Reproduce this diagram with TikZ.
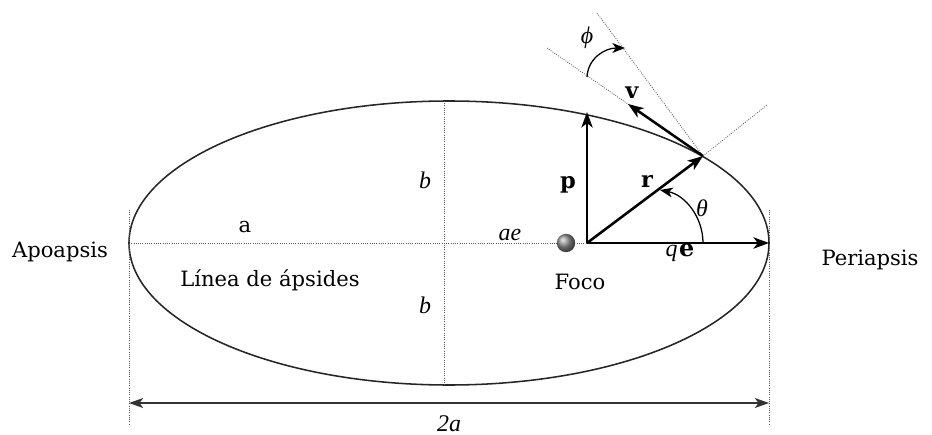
\documentclass[tikz,border=0pt]{standalone}
\usepackage{fontspec}
\setmainfont{DejaVu Serif}
\newfontfamily\symfam{Liberation Serif}
\usepackage{tikz}
\usetikzlibrary{arrows.meta}
\tikzset{
  orbit/.style={line width=1.1pt,black!85},
  guide/.style={densely dotted,black!65,line width=0.6pt},
  vec/.style={line width=1.8pt,-{Stealth[length=11pt,width=8pt,inset=3pt]}},
  angarc/.style={line width=0.9pt,-{Stealth[length=9pt,width=7pt,inset=2.5pt]}},
  dimline/.style={line width=1.4pt,black!80,{Stealth[length=10pt,width=7pt,inset=2.5pt]}-{Stealth[length=10pt,width=7pt,inset=2.5pt]}},
  lbl/.style={font=\fontsize{15}{18}\selectfont,inner sep=1pt},
  ilbl/.style={font=\fontsize{17}{20}\selectfont\symfam\itshape,inner sep=1pt},
  blbl/.style={font=\fontsize{16}{19}\selectfont\bfseries,inner sep=1pt},
  ball/.style={circle,minimum size=4.6mm,inner sep=0pt,ball color=black!45},
}

\begin{document}
\begin{tikzpicture}[x=0.25mm,y=-0.25mm]
  \useasboundingbox (0,0) rectangle (932,435);
  % puntos de la orbita
  \coordinate (C) at (449,243);
  \coordinate (F) at (587,243);
  \coordinate (P) at (703,156);
  \coordinate (apo) at (129,243);
  \coordinate (peri) at (769,243);
  \coordinate (ptip) at (587,112);
  \coordinate (vtip) at (628,104);
  \coordinate (ctop) at (444,101);
  \coordinate (cbot) at (444,385);
  \coordinate (apoT) at (129,210);
  \coordinate (apoB) at (129,425);
  \coordinate (periT) at (769,210);
  \coordinate (periB) at (769,425);
  \coordinate (dimL) at (129,403);
  \coordinate (dimR) at (769,403);
  \coordinate (vfar) at (547,48);
  \coordinate (hfar) at (597,13);
  \coordinate (rfar) at (767,105);
  \coordinate (th0) at (703,243);
  \coordinate (th1) at (660,190);
  \coordinate (ph0) at (587,77);
  \coordinate (ph1) at (625,48);
  % elipse y lineas guia
  \draw[orbit] (C) ellipse [x radius=80mm,y radius=35.5mm];
  \draw[guide] (apo) -- (F);
  \draw[guide] (ctop) -- (cbot);
  \draw[guide] (apoT) -- (apoB);
  \draw[guide] (periT) -- (periB);
  \draw[guide] (vfar) -- (P);
  \draw[guide] (hfar) -- (P) -- (rfar);
  \draw[dimline] (dimL) -- (dimR);
  % foco y vectores
  \node[ball] (foco) at (566,243) {};
  \draw[vec] (F) -- (ptip);
  \draw[vec] (F) -- (P);
  \draw[vec] (F) -- (peri);
  \draw[vec] (P) -- (vtip);
  \draw[angarc] (th0) .. controls (703,217) and (685,195) .. (th1);
  \draw[angarc] (ph0) .. controls (588,58) and (605,48) .. (ph1);
  % etiquetas
  \node[lbl] (apoL) at (60,252) {Apoapsis};
  \node[lbl] (periL) at (870,260) {Periapsis};
  \node[lbl] (aL) at (245,227) {a};
  \node[lbl] (lineaL) at (270,280) {Línea de ápsides};
  \node[ilbl] (b1) at (425,180) {b};
  \node[ilbl] (b2) at (425,305) {b};
  \node[ilbl] (aeL) at (510,235) {ae};
  \node[lbl] (focoL) at (580,282) {Foco};
  \node[blbl] (pL) at (568,185) {p};
  \node[blbl] (rL) at (647,182) {r};
  \node[blbl] (vL) at (632,93) {v};
  \node[ilbl] (thL) at (702,208) {θ};
  \node[ilbl] (phL) at (587,38) {ϕ};
  \node[ilbl] (qeL) at (680,253) {q\/\kern1pt\textup{\bfseries\rmfamily e}};
  \node[ilbl] (dosaL) at (449,424) {2a};
\end{tikzpicture}
\end{document}
